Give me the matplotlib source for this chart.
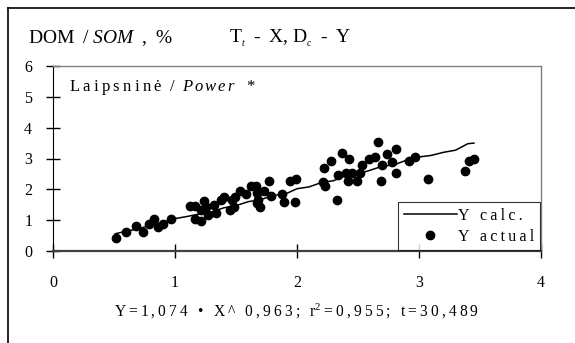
"""DOM / SOM power regression chart"""

import matplotlib
matplotlib.use("Agg")
import matplotlib.pyplot as plt
from matplotlib.lines import Line2D

plt.rcParams["font.family"] = ["Liberation Serif", "DejaVu Serif"]
plt.rcParams["mathtext.fontset"] = "custom"
plt.rcParams["mathtext.rm"] = "Liberation Serif"
plt.rcParams["mathtext.it"] = "Liberation Serif:italic"

# measured points (T_t vs D_c)
x_actual = [0.52, 0.60, 0.68, 0.74, 0.79, 0.83, 0.86, 0.90, 0.97, 1.12,
            1.16, 1.16, 1.21, 1.21, 1.24, 1.25, 1.27, 1.32, 1.34, 1.38,
            1.40, 1.45, 1.47, 1.48, 1.49, 1.53, 1.58, 1.62, 1.66, 1.67,
            1.67, 1.68, 1.70, 1.73, 1.77, 1.79, 1.88, 1.89, 1.94, 1.98,
            1.99, 2.22, 2.21, 2.23, 2.28, 2.33, 2.37, 2.34, 2.40, 2.42,
            2.43, 2.45, 2.49, 2.53, 2.52, 2.59, 2.64, 2.66, 2.69, 2.70,
            2.74, 2.78, 2.81, 2.81, 2.92, 2.97, 3.07, 3.38, 3.41, 3.45]
y_actual = [0.43, 0.62, 0.82, 0.62, 0.88, 1.04, 0.77, 0.87, 1.04, 1.46,
            1.46, 1.04, 0.98, 1.33, 1.62, 1.42, 1.17, 1.49, 1.22, 1.66,
            1.76, 1.33, 1.66, 1.44, 1.76, 1.93, 1.84, 2.11, 2.11, 1.87,
            1.55, 1.66, 1.44, 1.93, 2.28, 1.79, 1.85, 1.60, 2.28, 1.60,
            2.35, 2.68, 2.25, 2.11, 2.93, 1.66, 3.17, 2.47, 2.52, 2.28,
            2.98, 2.54, 2.28, 2.79, 2.52, 2.98, 3.04, 3.52, 2.28, 2.79,
            3.14, 2.90, 3.31, 2.54, 2.92, 3.04, 2.34, 2.60, 2.92, 2.98]

# calculated curve
x_calc = [0.51, 0.60, 0.70, 0.80, 0.90, 1.00, 1.10, 1.20, 1.30, 1.40,
          1.50, 1.60, 1.70, 1.80, 1.90, 2.00, 2.10, 2.20, 2.30, 2.40,
          2.50, 2.60, 2.70, 2.80, 2.90, 3.00, 3.10, 3.20, 3.30, 3.40, 3.45]
y_calc = [0.56, 0.64, 0.72, 0.84, 0.93, 1.05, 1.12, 1.20, 1.27, 1.40,
          1.47, 1.60, 1.66, 1.80, 1.84, 2.02, 2.08, 2.22, 2.28, 2.45,
          2.50, 2.62, 2.75, 2.80, 2.95, 3.05, 3.10, 3.20, 3.27, 3.48, 3.50]

TS = "\u2009"  # thin space, used to mimic the wide letter spacing


def spread(s: str) -> str:
    """Put a thin space between letters"""
    return TS.join(s)


def main() -> None:
    fig = plt.figure(figsize=(5.75, 3.43), dpi=100)
    ax = fig.add_axes([53 / 575, 1 - 251 / 343, 488 / 575, 185 / 343])

    ax.plot(x_calc, y_calc, color="black", lw=1.1, label=spread("Y calc."))
    ax.plot(x_actual, y_actual, "o", color="black", ms=6,
            label=spread("Y actual"))

    ax.set_xlim(0, 4)
    ax.set_ylim(0, 6)
    ax.set_xticks([0, 1, 2, 3, 4])
    ax.set_yticks([0, 1, 2, 3, 4, 5, 6])
    ax.tick_params(direction="inout", length=10, width=1, labelsize=11.5)
    ax.tick_params(axis="y", pad=10)
    ax.tick_params(axis="x", pad=12)
    ax.spines["left"].set_color("black")
    ax.spines["bottom"].set_color("#404040")
    ax.spines["bottom"].set_linewidth(1.6)
    for s in ("top", "right"):
        ax.spines[s].set_color("#808080")
        ax.spines[s].set_linewidth(1.0)

    leg = ax.legend(loc="lower right", fontsize=11.5, frameon=True,
                    fancybox=False, borderaxespad=0.05, handlelength=3.3,
                    handletextpad=0.1, borderpad=0.35, labelspacing=0.3)
    leg.get_frame().set_edgecolor("black")
    leg.get_frame().set_linewidth(0.8)

    ax.text(0.13, 5.3,
            spread("Laipsninė") + "  /  $\\mathit{P\\,o\\,w\\,e\\,r}$   *",
            fontsize=12, va="center")
    ax.set_xlabel(spread("Y=1,074 • X^ 0,963; r") + "$^2$" + TS
                  + spread("=0,955; t=30,489"),
                  fontsize=11.2, labelpad=8)

    fig.text(28 / 575, 1 - 38 / 343,
             "DOM" + TS + " / $\\mathit{SOM}$" + TS + " ," + TS + " %",
             fontsize=14, va="center")
    fig.text(229 / 575, 1 - 38 / 343,
             "T$_{_t}$" + TS + " - " + TS + "X, D$_{_c}$" + TS + " - " + TS
             + "Y",
             fontsize=14, va="center")

    # outer frame (left and top edges only visible)
    fig.add_artist(Line2D([8 / 575, 8 / 575], [0, 1 - 8 / 343],
                          transform=fig.transFigure, color="black", lw=1.2))
    fig.add_artist(Line2D([8 / 575, 1], [1 - 8 / 343, 1 - 8 / 343],
                          transform=fig.transFigure, color="black", lw=1.2))

    fig.savefig("out.png", dpi=100)


if __name__ == "__main__":
    main()
